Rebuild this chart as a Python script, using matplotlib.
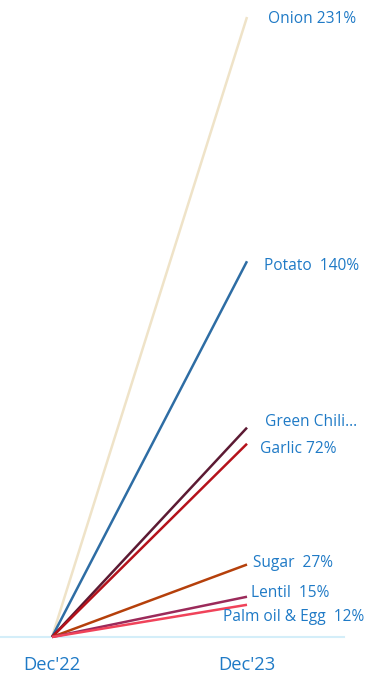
import matplotlib.pyplot as plt

plt.rcParams['font.family'] = ['Open Sans', 'DejaVu Sans']

# data
periods = ["Dec'22", "Dec'23"]
items = ["Onion", "Potato", "Green Chili", "Garlic", "Sugar", "Lentil", "Palm oil & Egg"]
change = [231, 140, 78, 72, 27, 15, 12]
labels = ["Onion 231%", "Potato  140%", "Green Chili...", "Garlic 72%",
          "Sugar  27%", "Lentil  15%", "Palm oil & Egg  12%"]

colors = ["#efe3c8", "#2e6da4", "#5c1a33", "#b5121b", "#b5400b", "#9b2a5a", "#f0435a"]
# label offsets in pixels from the line end
offs = [(21, -2), (17, -5), (18, 6), (13, -5), (6, 2), (4, 4), (-24, -12)]
txt_color = "#1f7ac6"

fig = plt.figure(figsize=(3.72, 6.73), dpi=100)
ax = fig.add_axes([0, 0, 1, 1])

ax.axhline(0, xmin=0, xmax=344 / 372, color="#d4eef9", lw=1.5, zorder=0)

for name, v, c, lab, (dx, dy) in zip(items, change, colors, labels, offs):
    ax.plot([0, 1], [0, v], color=c, lw=1.8, solid_capstyle="butt")
    ax.annotate(lab, xy=(1, v), xytext=(dx, dy), textcoords="offset pixels",
                ha="left", va="center", color=txt_color, fontsize=11.2)

for i, p in enumerate(periods):
    ax.annotate(p, xy=(i, 0), xytext=(0, -28), textcoords="offset pixels",
                ha="center", va="center", color=txt_color, fontsize=13.2)

ax.set_xlim(-52 / 195, 320 / 195)
ax.set_ylim(-36 / (620 / 231), 637 / (620 / 231))
ax.axis("off")

fig.savefig("out.png", dpi=100)
